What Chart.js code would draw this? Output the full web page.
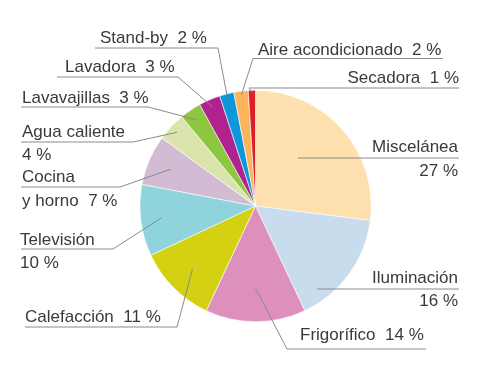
<!DOCTYPE html>
<html>
<head>
<meta charset="utf-8">
<script src="https://cdn.jsdelivr.net/npm/chart.js@4.4.0/dist/chart.umd.min.js"></script>
<style>
  html, body { margin: 0; padding: 0; background: #fff; }
  #wrap { width: 479px; height: 375px; position: relative; }
</style>
</head>
<body>
<div id="wrap"><canvas id="myChart"></canvas></div>
<script>
// Consumo eléctrico por uso (%), clockwise from 12 o'clock
var categories = ['Miscelánea', 'Iluminación', 'Frigorífico', 'Calefacción', 'Televisión',
  'Cocina y horno', 'Agua caliente', 'Lavavajillas', 'Lavadora', 'Stand-by',
  'Aire acondicionado', 'Secadora'];
var values = [27, 16, 14, 11, 10, 7, 4, 3, 3, 2, 2, 1];
var colors = ['#fde0ad', '#c9dcee', '#de90bd', '#d4d112', '#8fd4dc', '#d3bbd4',
  '#dce4ad', '#8dc63f', '#b0228d', '#0d96d9', '#fbb45c', '#da1f27'];

// label placement: text x / align, baselines, underline, leader anchor (fraction of radius)
var labelLayout = [
  { x: 458, align: 'right', wrap: 1, base: [152, 176], ul: [298, 459, 158], r: null },
  { x: 458, align: 'right', wrap: 1, base: [283, 306], ul: [317, 459, 289], r: null },
  { x: 300, align: 'left', base: [340], ul: [287, 426, 349], elbow: 'left', r: 0.71 },
  { x: 25, align: 'left', base: [322], ul: [25, 177, 327], elbow: 'right', r: 0.77 },
  { x: 20, align: 'left', wrap: 1, base: [245, 268], ul: [21, 113, 249], elbow: 'right', r: 0.82 },
  { x: 22, align: 'left', wrap: 1, joinValue: true, base: [182, 206], ul: [21, 120, 187], elbow: 'right', r: 0.8 },
  { x: 22, align: 'left', wrap: 2, base: [137, 160], ul: [21, 133, 142], elbow: 'right', r: 0.93 },
  { x: 22, align: 'left', base: [103], ul: [21, 148, 107], elbow: 'right', r: 0.9 },
  { x: 65, align: 'left', base: [72], ul: [57, 178, 77], elbow: 'right', r: 0.93 },
  { x: 100, align: 'left', base: [43], ul: [95, 218, 48], elbow: 'right', r: 1.0 },
  { x: 258, align: 'left', base: [55], ul: [253, 443, 58.5], elbow: 'left', r: 0.97 },
  { x: 459, align: 'right', base: [83], ul: [249, 459, 88], elbow: 'left', r: 0.98 }
];

function labelLines(i) {
  var lay = labelLayout[i];
  var name = categories[i];
  var pct = values[i] + ' %';
  if (!lay.wrap) return [name + '  ' + pct];
  var words = name.split(' ');
  var first = words.slice(0, lay.wrap).join(' ');
  var rest = words.slice(lay.wrap).join(' ');
  if (lay.joinValue) return [first, rest + '  ' + pct];
  return [first, pct];
}

var calloutPlugin = {
  id: 'callouts',
  afterDraw: function(chart) {
    var ctx = chart.ctx;
    var arcs = chart.getDatasetMeta(0).data;
    ctx.save();
    ctx.font = '17px "Liberation Sans", Arial, sans-serif';
    ctx.fillStyle = '#3a3a3a';
    ctx.textBaseline = 'alphabetic';
    ctx.strokeStyle = '#8a8a8a';
    ctx.lineWidth = 1;
    arcs.forEach(function(arc, i) {
      var lay = labelLayout[i];
      var lines = labelLines(i);
      ctx.textAlign = lay.align;
      lines.forEach(function(t, k) { ctx.fillText(t, lay.x, lay.base[k]); });
      ctx.beginPath();
      ctx.moveTo(lay.ul[0], lay.ul[2]);
      ctx.lineTo(lay.ul[1], lay.ul[2]);
      if (lay.r !== null) {
        var p = arc.getProps(['x', 'y', 'startAngle', 'endAngle', 'outerRadius'], true);
        var mid = (p.startAngle + p.endAngle) / 2;
        var ax = p.x + Math.cos(mid) * p.outerRadius * lay.r;
        var ay = p.y + Math.sin(mid) * p.outerRadius * lay.r;
        var ex = lay.elbow === 'left' ? lay.ul[0] : lay.ul[1];
        ctx.moveTo(ex, lay.ul[2]);
        ctx.lineTo(ax, ay);
      }
      ctx.stroke();
    });
    ctx.restore();
  }
};

var ctx = document.getElementById('myChart');
var myChart = new Chart(ctx, {
  type: 'pie',
  data: {
    labels: categories,
    datasets: [{
      data: values,
      backgroundColor: colors,
      borderColor: '#ffffff',
      borderWidth: 0.6
    }]
  },
  options: {
    responsive: true,
    maintainAspectRatio: false,
    animation: false,
    layout: { padding: { left: 139, right: 107, top: 90, bottom: 53 } },
    plugins: {
      legend: { display: false },
      tooltip: { enabled: false }
    }
  },
  plugins: [calloutPlugin]
});
</script>
</body>
</html>
